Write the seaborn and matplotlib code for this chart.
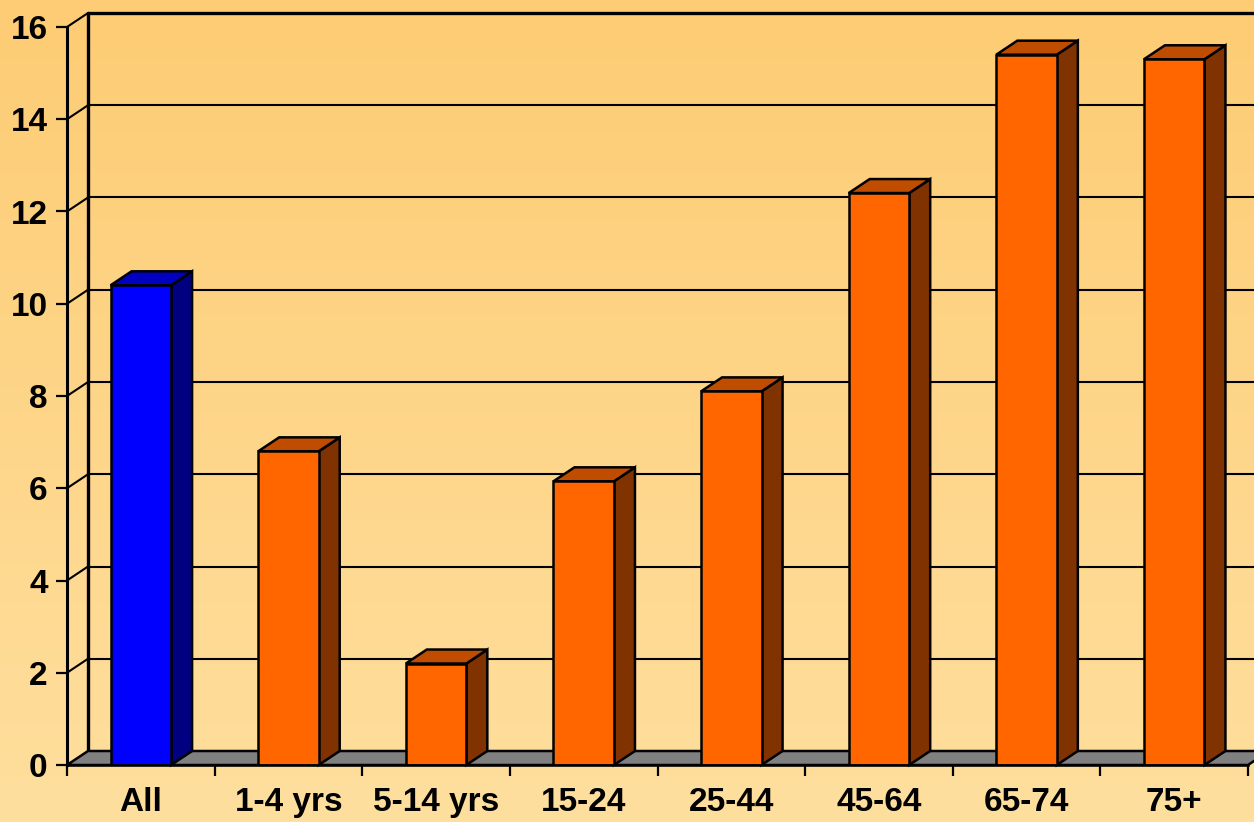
import numpy as np
import matplotlib
matplotlib.use("Agg")
import matplotlib.pyplot as plt
import seaborn as sns

# data
groups = ["All", "1-4 yrs", "5-14 yrs", "15-24", "25-44", "45-64", "65-74", "75+"]
rates = [10.4, 6.8, 2.2, 6.15, 8.1, 12.4, 15.4, 15.3]
front_cols = ["#0000FF"] + ["#FF6600"] * 7
side_cols = ["#000080"] + ["#803300"] * 7
top_cols = ["#0000C0"] + ["#C04C00"] * 7
yticks = [0, 2, 4, 6, 8, 10, 12, 14, 16]

sns.set_style("white")
plt.rcParams["font.family"] = ["Liberation Sans", "DejaVu Sans"]

fig = plt.figure(figsize=(12.54, 8.22), dpi=100)

# gradient background
bg = fig.add_axes([0, 0, 1, 1], zorder=0)
top_c = np.array([253, 204, 116]) / 255
bot_c = np.array([255, 223, 158]) / 255
t = np.linspace(0, 1, 256)[:, None, None]
grad = top_c * (1 - t) + bot_c * t
grad = np.repeat(grad, 2, axis=1)
bg.imshow(grad, aspect="auto", extent=[0, 1, 0, 1])
bg.axis("off")

ax = fig.add_axes([67 / 1254, 57 / 822, 1181 / 1254, 738 / 822], zorder=1)
ax.set_facecolor("none")

# depth offset in data units
ddx = 21 / 147.6
ddy = 14 / 46.125
x0, x1 = -0.5, 7.5

sns.barplot(x=groups, y=rates, hue=groups, palette=front_cols, width=0.41,
            saturation=1, edgecolor="black", linewidth=1.8, legend=False, ax=ax)

bars = [b for c in ax.containers for b in c]
bars.sort(key=lambda b: b.get_x())
for i, p in enumerate(bars):
    x = p.get_x()
    w = p.get_width()
    h = p.get_height()
    p.set_zorder(3)
    ax.fill([x + w, x + w + ddx, x + w + ddx, x + w], [0, ddy, h + ddy, h],
            facecolor=side_cols[i], edgecolor="black", lw=1.8, clip_on=False, zorder=2)
    ax.fill([x, x + ddx, x + w + ddx, x + w], [h, h + ddy, h + ddy, h],
            facecolor=top_cols[i], edgecolor="black", lw=1.8, clip_on=False, zorder=2)

# back wall
for v in yticks[1:]:
    lw = 2.4 if v == 16 else 1.5
    ax.plot([x0, x0 + ddx], [v, v + ddy], color="black", lw=1.5, clip_on=False, zorder=1)
    ax.plot([x0 + ddx, x1 + 1], [v + ddy, v + ddy], color="black", lw=lw, clip_on=False, zorder=1)
ax.plot([x0 + ddx, x0 + ddx], [ddy, 16 + ddy], color="black", lw=2.4, clip_on=False, zorder=1)

# floor
ax.fill([x0, x1, x1 + ddx, x0 + ddx], [0, 0, ddy, ddy], facecolor="#808080",
        edgecolor="black", lw=1.8, clip_on=False, zorder=1.5)

ax.set_xlim(x0, x1)
ax.set_ylim(0, 16)
ax.set_yticks(yticks)
ax.set_yticklabels([str(v) for v in yticks], fontsize=24, fontweight="bold", color="black")
ax.set_xticks(range(len(groups)))
ax.set_xticklabels(groups, fontsize=24, fontweight="bold", color="black")
ax.set_xticks(np.arange(-0.5, 8, 1), minor=True)
ax.tick_params(axis="x", which="major", length=0, pad=16)
ax.tick_params(axis="x", which="minor", length=8, width=1.6, color="black", bottom=True)
ax.tick_params(axis="y", which="major", length=8, width=1.6, color="black", left=True, pad=6)
ax.set_xlabel("")
ax.set_ylabel("")

for s in ["top", "right"]:
    ax.spines[s].set_visible(False)
ax.spines["left"].set_linewidth(2.2)
ax.spines["bottom"].set_linewidth(1.8)
ax.spines["left"].set_color("black")
ax.spines["bottom"].set_color("black")
ax.spines["bottom"].set_zorder(4)

fig.savefig("out.png", dpi=100)
